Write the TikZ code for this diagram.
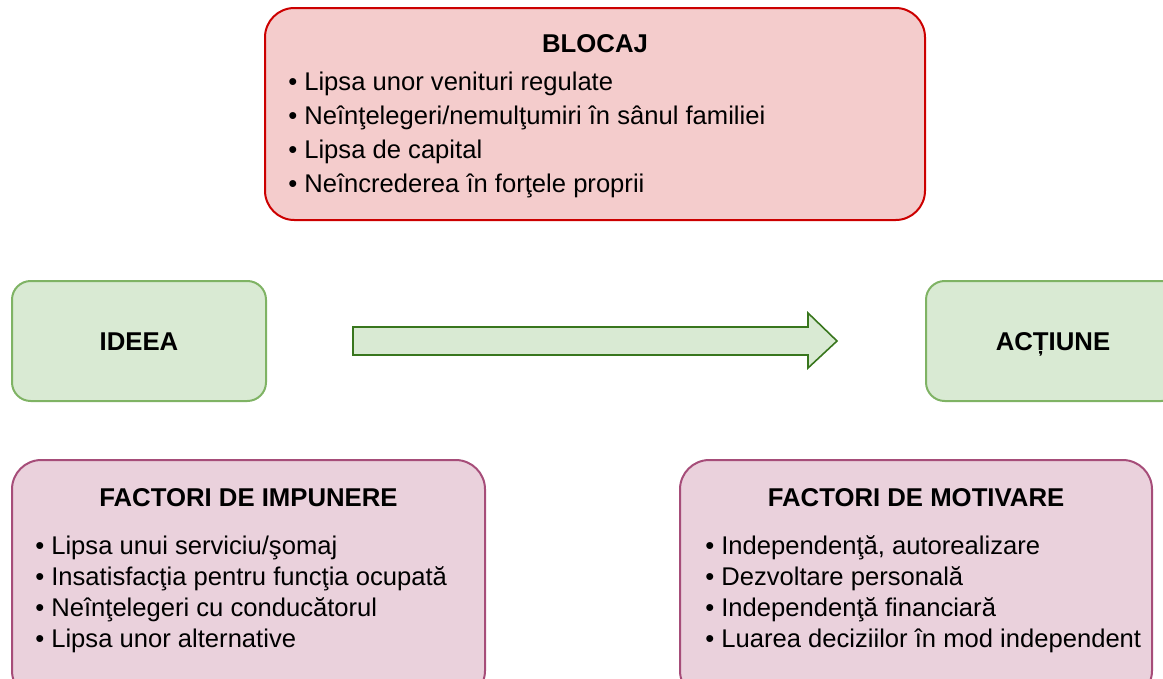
\documentclass[tikz,border=0pt]{standalone}
\usepackage{fontspec}
\setmainfont{Liberation Sans}
\usetikzlibrary{positioning}

\definecolor{blocfill}{HTML}{F4CCCC}
\definecolor{blocline}{HTML}{CC0000}
\definecolor{ideafill}{HTML}{D9EAD3}
\definecolor{idealine}{HTML}{7FB364}
\definecolor{arrowline}{HTML}{38761D}
\definecolor{factfill}{HTML}{EAD1DC}
\definecolor{factline}{HTML}{A64D79}

\tikzset{
	boxbase/.style={draw, line width=1.5pt, inner sep=0pt},
	redbox/.style={boxbase, draw=blocline, fill=blocfill, rounded corners=22pt},
	greenbox/.style={boxbase, draw=idealine, fill=ideafill, rounded corners=14pt},
	pinkbox/.style={boxbase, draw=factline, fill=factfill, rounded corners=22pt},
	boxtitle/.style={anchor=base, inner sep=0pt, font=\fontsize{19.3}{23}\selectfont\bfseries},
	item/.style={anchor=base west, inner sep=0pt, font=\fontsize{19.2}{23}\selectfont}
}

\begin{document}
\begin{tikzpicture}[x=0.75pt, y=-0.75pt]
	\useasboundingbox (0,0) rectangle (1163,678);
	\clip (0,0) rectangle (1163,678);

	\node[redbox, minimum width=660*0.75pt, minimum height=212*0.75pt] (blocaj) at (595,114) {};
	\node[boxtitle] (blocajtitle) at (595,52) {BLOCAJ};
	\foreach \txt [count=\i] in {Lipsa unor venituri regulate, Neînţelegeri/nemulţumiri în sânul familiei, Lipsa de capital, Neîncrederea în forţele proprii}
		\node[item] (blocaj\i) at (288,56+34*\i) {• \txt};

	\node[greenbox, minimum width=254*0.75pt, minimum height=120*0.75pt] (ideea) at (139,341) {};
	\node[boxtitle] (ideeatitle) at (139,350) {IDEEA};
	\node[greenbox, minimum width=254*0.75pt, minimum height=120*0.75pt] (actiune) at (1053,341) {};
	\node[boxtitle] (actiunetitle) at (1053,350) {ACȚIUNE};

	\draw[draw=arrowline, fill=ideafill, line width=1.2pt] (353,327) -- (808,327) -- (808,313) -- (837,341) -- (808,368) -- (808,355) -- (353,355) -- cycle;

	\node[pinkbox, minimum width=473*0.75pt, minimum height=240*0.75pt] (impunere) at (248.5,580) {};
	\node[boxtitle] (impuneretitle) at (248.5,506) {FACTORI DE IMPUNERE};
	\foreach \txt [count=\i] in {Lipsa unui serviciu/şomaj, Insatisfacţia pentru funcţia ocupată, Neînţelegeri cu conducătorul, Lipsa unor alternative}
		\node[item] (impunere\i) at (35,523+31*\i) {• \txt};

	\node[pinkbox, minimum width=472*0.75pt, minimum height=240*0.75pt] (motivare) at (916,580) {};
	\node[boxtitle] (motivaretitle) at (916,506) {FACTORI DE MOTIVARE};
	\foreach \txt [count=\i] in {{Independenţă, autorealizare}, Dezvoltare personală, Independenţă financiară, Luarea deciziilor în mod independent}
		\node[item] (motivare\i) at (705,523+31*\i) {• \txt};
\end{tikzpicture}
\end{document}
